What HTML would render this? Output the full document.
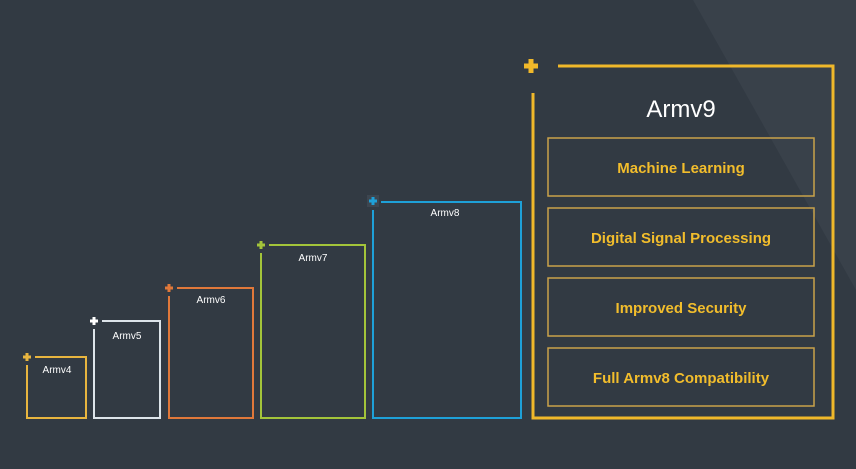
<!DOCTYPE html>
<html><head><style>
body{margin:0;width:856px;height:464px;overflow:hidden;background:#323a43;font-family:"Liberation Sans",sans-serif}
</style></head><body>
<svg width="856" height="464" viewBox="0 0 856 464" xmlns="http://www.w3.org/2000/svg">
<rect width="856" height="464" fill="#323a43"/>
<polygon points="693,0 856,0 856,290" fill="#39414a"/>
<g fill="none" stroke-width="2">
 <path d="M35,357H86V418H27V365" stroke="#e8b53f"/>
 <path d="M102,321H160V418H94V329" stroke="#dde4ea"/>
 <path d="M177,288H253V418H169V296" stroke="#e0783a"/>
 <path d="M269,245H365V418H261V253" stroke="#a3c43a"/>
 <path d="M381,202H521V418H373V210" stroke="#1ea0d8"/>
 <path d="M558,66H833V418H533V93" stroke="#f0b82a" stroke-width="3"/>
</g>
<g fill="none" stroke="#c9a24a" stroke-width="1.5">
 <rect x="548" y="138" width="266" height="58"/>
 <rect x="548" y="208" width="266" height="58"/>
 <rect x="548" y="278" width="266" height="58"/>
 <rect x="548" y="348" width="266" height="58"/>
</g>
<rect x="367" y="195" width="12" height="12" fill="#3d4650"/>
<g stroke-width="3">
 <path d="M23,357h8M27,353v8" stroke="#e8b53f"/>
 <path d="M90,321h8M94,317v8" stroke="#ffffff"/>
 <path d="M165,288h8M169,284v8" stroke="#e0783a"/>
 <path d="M257,245h8M261,241v8" stroke="#a3c43a"/>
 <path d="M369,201h8M373,197v8" stroke="#1ea0d8"/>
 <path d="M524,66h14M531,59v14" stroke="#f0b82a" stroke-width="5"/>
</g>
<g fill="#ffffff" font-size="10" text-anchor="middle">
 <text x="57" y="373">Armv4</text>
 <text x="127" y="339">Armv5</text>
 <text x="211" y="303">Armv6</text>
 <text x="313" y="261">Armv7</text>
 <text x="445" y="216">Armv8</text>
</g>
<text x="681" y="117" fill="#ffffff" font-size="24" text-anchor="middle">Armv9</text>
<g fill="#f2bd2c" font-size="15" font-weight="bold" text-anchor="middle">
 <text x="681" y="173">Machine Learning</text>
 <text x="681" y="243">Digital Signal Processing</text>
 <text x="681" y="313">Improved Security</text>
 <text x="681" y="383">Full Armv8 Compatibility</text>
</g>
</svg>
</body></html>
